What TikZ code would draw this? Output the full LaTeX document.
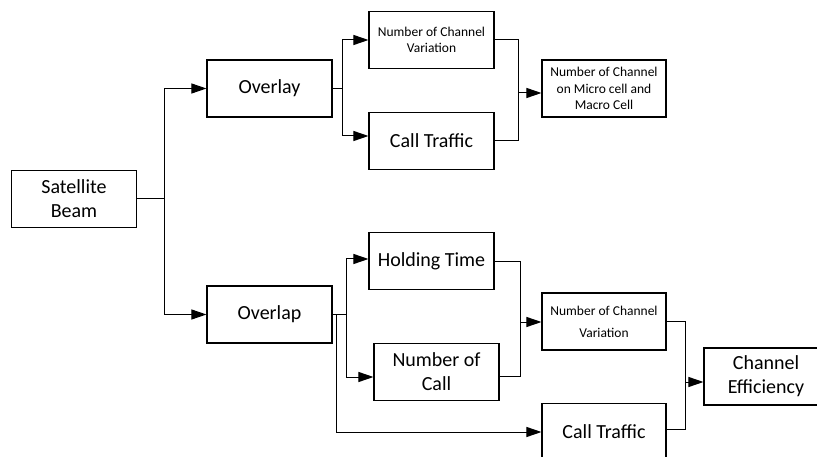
\documentclass[tikz,border=0pt]{standalone}
\usepackage{fontspec}
\setmainfont{Carlito}
\usetikzlibrary{arrows.meta}
\tikzset{
  bloque/.style={draw,line width=1.1pt,minimum width=125pt,minimum height=57pt,inner sep=0pt,align=center},
  grande/.style={font=\fontsize{20}{24}\selectfont},
  chico/.style={font=\fontsize{13.5}{16.5}\selectfont},
  linea/.style={line width=1pt},
  flecha/.style={line width=1pt,-{Triangle[length=15pt,width=10pt]}}
}
\begin{document}
\begin{tikzpicture}[x=1pt,y=-1pt]
\useasboundingbox (0,0) rectangle (817,457);
\clip (0,0) rectangle (817,457);
\node[bloque,grande] (beam) at (74,199) {Satellite\\Beam};
\node[bloque,grande] (overlay) at (269.5,88.5) {Overlay};
\node[bloque,grande] (overlap) at (269.5,314.5) {Overlap};
\node[bloque,chico] (varA) at (431.5,40) {Number of Channel\\Variation};
\node[bloque,grande] (trafA) at (431.5,141) {Call Traffic};
\node[bloque,chico,minimum width=124pt] (micro) at (604,88.5) {Number of Channel\\on Micro cell and\\Macro Cell};
\node[bloque,grande] (hold) at (431.5,261) {Holding Time};
\node[bloque,grande] (ncall) at (436.5,372) {Number of\\Call};
\node[bloque,font=\fontsize{13.5}{22}\selectfont,minimum width=124pt] (varB) at (604,321.5) {Number of Channel\\Variation};
\node[bloque,grande,minimum width=124pt] (trafB) at (604,432) {Call Traffic};
\node[bloque,grande,minimum width=124pt] (eff) at (766,376.5) {Channel\\Efficiency};

\coordinate (b1) at (164,199);
\draw[linea] (beam.east) -- (b1);
\draw[flecha] (b1) |- (overlay.west);
\draw[flecha] (b1) |- (overlap.west);

\coordinate (b2) at (342,88.5);
\draw[linea] (overlay.east) -- (b2);
\draw[flecha] (b2) |- (varA.west);
\draw[flecha] (b2) |- ([yshift=5pt]trafA.west);

\coordinate (m1) at (518,93);
\draw[linea] (varA.east) -| (m1);
\draw[linea] (trafA.east) -| (m1);
\draw[flecha] (m1) -- (m1 -| micro.west);

\coordinate (b3) at (346,314.5);
\coordinate (b4) at (336,314.5);
\draw[linea] (overlap.east) -- (b3);
\draw[flecha] (b3) |- ([yshift=2pt]hold.west);
\draw[flecha] (b3) |- ([yshift=-5pt]ncall.west);
\draw[flecha] (b4) |- (trafB.west);

\coordinate (m2) at (520,322);
\draw[linea] ([yshift=-1pt]hold.east) -| (m2);
\draw[linea] ([yshift=-4pt]ncall.east) -| (m2);
\draw[flecha] (m2) -- (m2 -| varB.west);

\coordinate (m3) at (685,382);
\draw[linea] (varB.east) -| (m3);
\draw[linea] ([yshift=3pt]trafB.east) -| (m3);
\draw[flecha] (m3) -- (m3 -| eff.west);
\end{tikzpicture}
\end{document}
